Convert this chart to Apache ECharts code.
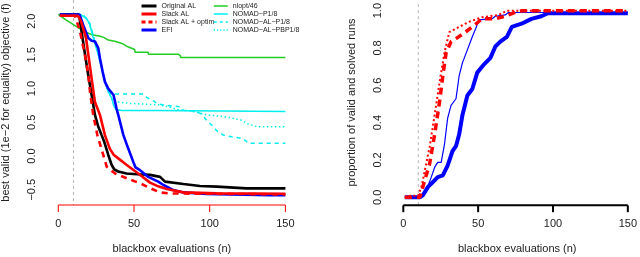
<!DOCTYPE html>
<html>
<head>
<meta charset="utf-8">
<script src="https://cdn.jsdelivr.net/npm/echarts@6/dist/echarts.min.js"></script>
<style>
html,body{margin:0;padding:0;background:#fff;}
#chart{width:640px;height:257px;}
</style>
</head>
<body>
<div id="chart"></div>
<script>
// ---------- data ----------
const xTicks = [0, 50, 100, 150];
const yTicksLeft = [-0.5, 0, 0.5, 1, 1.5, 2];
const yTicksRight = [0, 0.2, 0.4, 0.6, 0.8, 1.0];
const budgetMark = 10;

const originalAL = [[1,2.1],[13,2.1],[14,2.05],[16,1.75],[19.4,1.25],[22,0.905],[24.2,0.61],[26.2,0.45],[28.6,0.31],[30.5,0.2],[33,0.015],[35.2,-0.13],[37,-0.2],[39.6,-0.23],[45,-0.26],[52,-0.27],[60.6,-0.28],[67.2,-0.31],[70.5,-0.38],[82.6,-0.415],[93.6,-0.445],[104.6,-0.455],[124.4,-0.48],[150,-0.48]];
const slackAL = [[1,2.08],[13,2.08],[15,2.0],[18.3,1.75],[21.4,1.25],[24.2,0.8],[27.5,0.61],[30.8,0.31],[34,0.11],[36.5,0.02],[39.6,-0.035],[45,-0.13],[52.8,-0.26],[60.6,-0.395],[66,-0.45],[71.6,-0.49],[82.6,-0.54],[104.6,-0.555],[150,-0.56]];
const slackALoptim = [[1,2.08],[11,2.08],[12.5,1.98],[14.3,1.85],[17.6,1.5],[19.8,1.2],[21.2,0.905],[23.1,0.61],[25.8,0.31],[29.7,0.015],[32,-0.16],[37.5,-0.26],[45.2,-0.33],[54,-0.405],[61,-0.48],[67,-0.54],[73.8,-0.555],[150,-0.57]];
const efi = [[1,2.1],[14,2.1],[16.5,1.94],[19.8,1.75],[22,1.71],[24.2,1.7],[26.4,1.6],[27.5,1.45],[29.3,1.25],[30.8,1.1],[33,1.0],[36.5,0.905],[38.5,0.7],[39.6,0.61],[43,0.31],[46.2,0.11],[49.5,-0.085],[51,-0.17],[54,-0.21],[59.4,-0.31],[66,-0.38],[69.4,-0.43],[76,-0.505],[82.6,-0.54],[98,-0.564],[140,-0.58],[150,-0.58]];
const nlopt = [[0,2.1],[5,2.02],[10,1.95],[15,1.88],[18,1.84],[22,1.8],[27,1.78],[30,1.76],[33,1.72],[38,1.7],[42,1.67],[46,1.62],[50.5,1.58],[50.7,1.54],[59.3,1.54],[59.5,1.51],[79.1,1.51],[79.3,1.49],[80.6,1.49],[80.8,1.46],[150,1.46]];
const nomadP = [[1,2.1],[14.3,2.1],[18.8,2.04],[21,1.94],[23.1,1.75],[26.4,1.5],[28.7,1.3],[30.8,1.1],[33,0.95],[35.3,0.86],[36.5,0.75],[38,0.69],[42,0.675],[65,0.675],[65.1,0.66],[150,0.66]];
const nomadALP = [[1,2.1],[13,2.1],[18,2.06],[21,1.96],[23.5,1.75],[26.4,1.52],[28.7,1.3],[30.8,1.12],[32.5,0.98],[34,0.93],[37,0.92],[56,0.92],[58.4,0.87],[62.7,0.82],[66,0.77],[71.6,0.75],[80.4,0.73],[82.6,0.68],[91.4,0.66],[94.7,0.62],[98,0.53],[101.3,0.46],[104.6,0.375],[109,0.31],[115.6,0.28],[122,0.26],[125.5,0.19],[150,0.19]];
const nomadALPBP = [[1,2.1],[14,2.1],[17,2.08],[20,1.98],[23,1.8],[25.5,1.58],[28,1.35],[30,1.15],[32,1.02],[34,0.9],[36,0.82],[40,0.8],[47.3,0.78],[66,0.76],[72.6,0.73],[80.4,0.68],[88,0.67],[98,0.61],[106.8,0.59],[113.4,0.57],[121,0.53],[125.5,0.475],[131,0.435],[150,0.435]];

const propRedDotted = [[1,0],[3,0],[4.4,0.008],[8,0.008],[10,0.01],[12.1,0.056],[14.3,0.14],[17.6,0.27],[20.9,0.44],[24.2,0.615],[27.5,0.775],[30.7,0.885],[37.3,0.913],[43.9,0.94],[52.7,0.965],[63.7,0.977],[69.2,1.0],[150,1.0]];
const propRedDashed = [[1,0],[11,0],[14.3,0.09],[17.6,0.18],[20.9,0.335],[24.2,0.51],[26.4,0.65],[28.6,0.775],[31.9,0.834],[35.2,0.85],[41.8,0.887],[47.2,0.92],[52.7,0.957],[61.5,0.957],[68.1,0.97],[76.9,0.997],[80.4,1.0],[150,1.0]];
const propBlueThin = [[1,0],[12,0],[15.4,0.038],[18.7,0.108],[20.9,0.16],[23,0.187],[25.3,0.187],[27.5,0.283],[29.6,0.423],[31.9,0.493],[35.2,0.528],[37.3,0.65],[39.5,0.72],[42.8,0.79],[46.1,0.86],[48.4,0.904],[50.5,0.951],[59.3,0.957],[61.5,0.97],[68.1,0.977],[70.3,0.99],[150,0.99]];
const propBlueThick = [[1,0],[11,0],[13.2,0.012],[16.5,0.056],[19.8,0.082],[23,0.108],[26.4,0.117],[29.6,0.17],[32.9,0.248],[35.2,0.274],[37.3,0.336],[39.5,0.44],[42.8,0.545],[46.1,0.58],[49.4,0.668],[53.8,0.711],[58.2,0.747],[61.5,0.808],[64.8,0.834],[69.2,0.86],[72.5,0.913],[79,0.93],[85.6,0.956],[92.2,0.97],[96.6,0.986],[150,0.986]];

// ---------- chart ----------
const FONT = 'Liberation Sans, Arial, Helvetica, sans-serif';
const CYAN = '#00eeee';
const GREEN = '#22cc22';
const TICK_PX = 7;
const chart = echarts.init(document.getElementById('chart'), null, {renderer: 'canvas'});

const L = {left: 58.3, top: 21.2, width: 227.1, height: 168.5, xOff: 15.3, yOff: 9.1, axColor: '#ff0000', axWidth: 1};
const R = {left: 403.3, top: 6.7, width: 227.7, height: 190.6, xOff: 8.2, yOff: 9.1, axColor: '#000000', axWidth: 2};

function fmt(v) { return v.toFixed(1).replace('-', '\u2212'); }

function xAxisDef(grid, off) {
  return {
    type: 'value', gridIndex: grid, min: xTicks[0], max: xTicks[xTicks.length - 1], interval: 50,
    offset: off,
    axisLine: {show: false, onZero: false}, axisTick: {show: false}, splitLine: {show: false},
    axisLabel: {margin: 13, fontSize: 11, fontFamily: FONT, color: '#222'}
  };
}
function yAxisDef(grid, ticks, step, off, margin) {
  return {
    type: 'value', gridIndex: grid, min: ticks[0], max: ticks[ticks.length - 1], interval: step,
    offset: off,
    axisLine: {show: false, onZero: false}, axisTick: {show: false}, splitLine: {show: false},
    axisLabel: {rotate: 90, margin: margin, fontSize: 11, fontFamily: FONT, color: '#222', formatter: fmt}
  };
}

function line(name, data, color, width, type, grid) {
  return {
    name: name, type: 'line', data: data, xAxisIndex: grid, yAxisIndex: grid,
    symbol: 'none', showSymbol: false, animation: false, clip: false, silent: true,
    lineStyle: {color: color, width: width, type: type},
    itemStyle: {color: color}
  };
}

function frameSeries(grid, box, yTicks) {
  const xPerPx = (xTicks[xTicks.length - 1] - xTicks[0]) / box.width;
  const yPerPx = (yTicks[yTicks.length - 1] - yTicks[0]) / box.height;
  const yAx = yTicks[0] - box.xOff * yPerPx;
  const yTk = yAx - TICK_PX * yPerPx;
  const xAx = xTicks[0] - box.yOff * xPerPx;
  const xTk = xAx - TICK_PX * xPerPx;
  const yTop = yTicks[yTicks.length - 1] + box.top * yPerPx;
  const out = [];
  const seg = function (pts, color, width, type) {
    const s = line(undefined, pts, color, width, type, grid);
    delete s.name;
    return s;
  };
  out.push(seg([[budgetMark, yTop], [budgetMark, yAx]], '#b4b4b4', 1, [3, 3]));
  out.push(seg([[xTicks[0], yAx], [xTicks[xTicks.length - 1], yAx]], box.axColor, box.axWidth, 'solid'));
  out.push(seg([[xAx, yTicks[0]], [xAx, yTicks[yTicks.length - 1]]], box.axColor, box.axWidth, 'solid'));
  xTicks.forEach(function (t) { out.push(seg([[t, yAx], [t, yTk]], box.axColor, box.axWidth, 'solid')); });
  yTicks.forEach(function (t) { out.push(seg([[xAx, t], [xTk, t]], box.axColor, box.axWidth, 'solid')); });
  return out;
}

const legendText = {fontSize: 7, fontFamily: FONT, color: '#222', lineHeight: 8};
function li(name, width, type) {
  return {name: name, itemStyle: {opacity: 0}, lineStyle: {width: width, type: type}};
}

const series = [].concat(
  frameSeries(0, L, yTicksLeft),
  frameSeries(1, R, yTicksRight),
  [
    line('nlopt/46', nlopt, GREEN, 1.5, 'solid', 0),
    line('NOMAD\u2212P1/8', nomadP, CYAN, 1.5, 'solid', 0),
    line('NOMAD\u2212AL\u2212P1/8', nomadALP, CYAN, 1.5, [4, 4], 0),
    line('NOMAD\u2212AL\u2212PBP1/8', nomadALPBP, CYAN, 1.5, [1.5, 2.5], 0),
    line('Original AL', originalAL, '#000000', 2.6, 'solid', 0),
    line('EFI', efi, '#0000ff', 2.6, 'solid', 0),
    line('Slack AL', slackAL, '#ff0000', 2.6, 'solid', 0),
    line('Slack AL + optim', slackALoptim, '#ff0000', 2.6, [6, 5], 0),

    line('EFI proportion (all)', propBlueThick, '#0000ff', 4, 'solid', 1),
    line('EFI proportion', propBlueThin, '#0000ff', 1.2, 'solid', 1),
    line('Slack AL proportion', propRedDotted, '#ff0000', 2, [2, 2.5], 1),
    line('Slack AL + optim proportion', propRedDashed, '#ff0000', 3.5, [7, 5], 1)
  ]
);

const titleStyle = {fontSize: 11, fontFamily: FONT, fill: '#222', align: 'center', verticalAlign: 'middle'};

chart.setOption({
  animation: false,
  backgroundColor: '#fff',
  grid: [
    {left: L.left, top: L.top, width: L.width, height: L.height},
    {left: R.left, top: R.top, width: R.width, height: R.height}
  ],
  xAxis: [xAxisDef(0, L.xOff), xAxisDef(1, R.xOff)],
  yAxis: [yAxisDef(0, yTicksLeft, 0.5, L.yOff, 12), yAxisDef(1, yTicksRight, 0.2, R.yOff, 11)],
  legend: [
    {
      orient: 'vertical', left: 140, top: 2, padding: 0, itemGap: 0, itemWidth: 15, itemHeight: 6,
      selectedMode: false, textStyle: legendText,
      data: [
        li('Original AL', 3, 'solid'),
        li('Slack AL', 3, 'solid'),
        li('Slack AL + optim', 3, [4, 3]),
        li('EFI', 3, 'solid')
      ]
    },
    {
      orient: 'vertical', left: 213, top: 2, padding: 0, itemGap: 0, itemWidth: 14, itemHeight: 6,
      selectedMode: false, textStyle: legendText,
      data: [
        li('nlopt/46', 1.5, 'solid'),
        li('NOMAD\u2212P1/8', 1.5, 'solid'),
        li('NOMAD\u2212AL\u2212P1/8', 1.5, [3, 3]),
        li('NOMAD\u2212AL\u2212PBP1/8', 1.5, [1.2, 2])
      ]
    }
  ],
  series: series,
  graphic: [
    {type: 'text', x: 171.9, y: 248.5, silent: true, style: Object.assign({text: 'blackbox evaluations (n)'}, titleStyle)},
    {type: 'text', x: 517.2, y: 248.5, silent: true, style: Object.assign({text: 'blackbox evaluations (n)'}, titleStyle)},
    {type: 'text', x: 5.5, y: 102.5, rotation: Math.PI / 2, silent: true, style: Object.assign({text: 'best valid (1e\u22122 for equality) objective (f)'}, titleStyle)},
    {type: 'text', x: 351.7, y: 102.5, rotation: Math.PI / 2, silent: true, style: Object.assign({text: 'proportion of valid and solved runs'}, titleStyle)}
  ]
});
</script>
</body>
</html>
